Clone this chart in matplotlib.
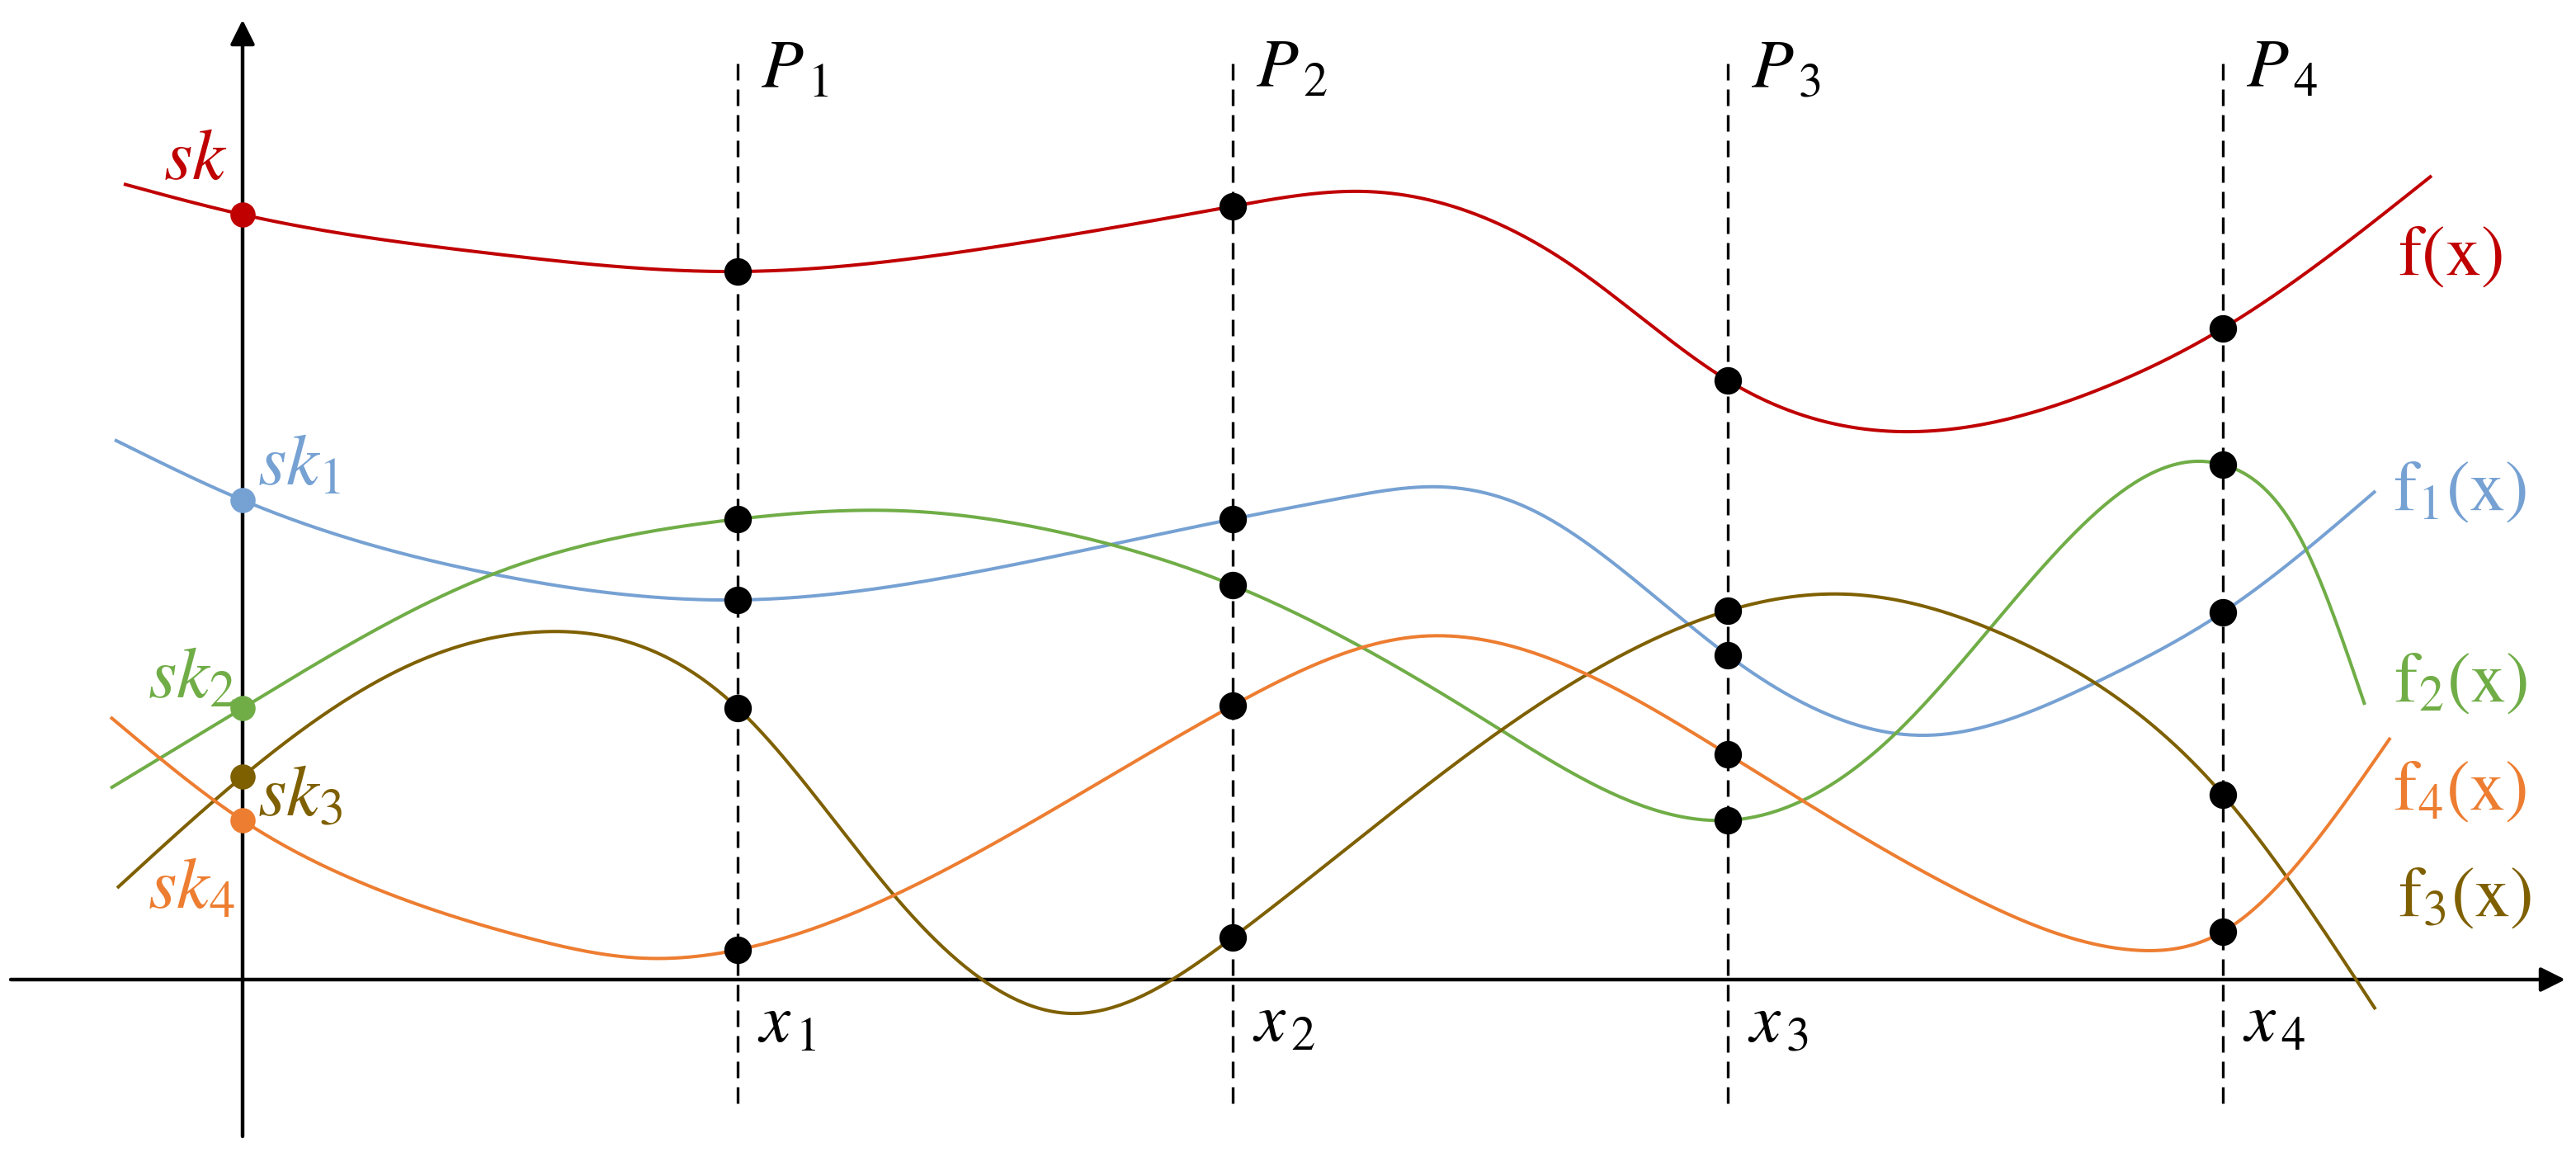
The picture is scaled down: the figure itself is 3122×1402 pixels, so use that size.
import numpy as np
import matplotlib
matplotlib.use("Agg")
import matplotlib.pyplot as plt

plt.rcParams['mathtext.fontset'] = 'stix'

# sample positions x1..x4 (dashed lines P1..P4)
x_nodes = [600, 1200, 1800, 2400]

# curve points: y axis at x=0, x axis at y=0
f_x = [-144, 0, 300, 600, 900, 1200, 1360, 1610, 1800, 2027, 2250, 2400, 2653]
f_y = [964, 927, 880, 858, 886, 937, 955, 866, 726, 664, 715, 789, 974]

f1_x = [-155, 0, 300, 600, 900, 1200, 1335, 1453, 1561, 1800, 2039, 2250,
        2400, 2585]
f1_y = [654, 581, 492, 460, 496, 558, 584, 597, 570, 393, 296, 362,
        445, 592]

f2_x = [-160, 0, 300, 600, 800, 1000, 1200, 1500, 1800, 2000, 2200, 2368,
        2400, 2500, 2572]
f2_y = [232, 329, 490, 558, 568, 540, 478, 318, 193, 295, 520, 628,
        624, 523, 333]

f3_x = [-152, 0, 200, 355, 600, 800, 1003, 1200, 1500, 1800, 1944, 2150,
        2400, 2585]
f3_y = [111, 246, 380, 421, 329, 90, -41, 51, 284, 447, 467, 411,
        224, -36]

f4_x = [-160, 0, 152, 344, 484, 600, 900, 1200, 1429, 1800, 2100, 2289,
        2400, 2603]
f4_y = [318, 193, 114, 51, 26, 36, 159, 332, 416, 273, 98, 36,
        58, 293]

colors = {'f': '#C00000', 'f1': '#76A1D3', 'f2': '#70AD47',
          'f3': '#7F6000', 'f4': '#ED7D31'}

curves = [('f', f_x, f_y), ('f1', f1_x, f1_y), ('f2', f2_x, f2_y),
          ('f3', f3_x, f3_y), ('f4', f4_x, f4_y)]

sk_labels = {'f': r'$sk$', 'f1': r'$sk_{\mathit{1}}$', 'f2': r'$sk_{\mathit{2}}$',
             'f3': r'$sk_{\mathit{3}}$', 'f4': r'$sk_{\mathit{4}}$'}
sk_pos = {'f': (-96, 970), 'f1': (18, 601), 'f2': (-115, 342),
          'f3': (18, 199), 'f4': (-115, 87)}

f_labels = {'f': r'$\mathrm{f(x)}$', 'f1': r'$\mathrm{f_{1}(x)}$',
            'f2': r'$\mathrm{f_{2}(x)}$', 'f3': r'$\mathrm{f_{3}(x)}$',
            'f4': r'$\mathrm{f_{4}(x)}$'}
f_pos = {'f': (2612, 854), 'f1': (2606, 569), 'f2': (2607, 337),
         'f3': (2612, 77), 'f4': (2606, 206)}


def natural_spline(xs, ys, n=600):
    # natural cubic spline through the read points, for drawing only
    x = np.asarray(xs, float)
    y = np.asarray(ys, float)
    h = np.diff(x)
    m = len(x)
    A = np.zeros((m, m))
    b = np.zeros(m)
    A[0, 0] = A[-1, -1] = 1
    for i in range(1, m - 1):
        A[i, i - 1] = h[i - 1]
        A[i, i] = 2 * (h[i - 1] + h[i])
        A[i, i + 1] = h[i]
        b[i] = 6 * ((y[i + 1] - y[i]) / h[i] - (y[i] - y[i - 1]) / h[i - 1])
    M = np.linalg.solve(A, b)
    xx = np.linspace(x[0], x[-1], n)
    k = np.clip(np.searchsorted(x, xx) - 1, 0, m - 2)
    t0 = x[k + 1] - xx
    t1 = xx - x[k]
    hk = h[k]
    yy = (M[k] * t0 ** 3 + M[k + 1] * t1 ** 3) / (6 * hk) \
        + (y[k] / hk - M[k] * hk / 6) * t0 + (y[k + 1] / hk - M[k + 1] * hk / 6) * t1
    return xx, yy


fig = plt.figure(figsize=(31.22, 14.02), dpi=100)
ax = fig.add_axes([0, 0, 1, 1])
ax.set_xlim(-294, 2828)
ax.set_ylim(-215, 1187)
ax.axis('off')

# axes with arrows
ax.annotate('', xy=(2815, 0), xytext=(-281, 0),
            arrowprops=dict(arrowstyle='-|>', lw=3.2, color='black',
                            mutation_scale=45, shrinkA=0, shrinkB=0))
ax.annotate('', xy=(0, 1163), xytext=(0, -190),
            arrowprops=dict(arrowstyle='-|>', lw=3.2, color='black',
                            mutation_scale=45, shrinkA=0, shrinkB=0))

# dashed verticals
for k, xn in enumerate(x_nodes):
    ax.plot([xn, xn], [-150, 1115], color='black', lw=2.4,
            dashes=(6, 3.3), zorder=2)
    ax.text(xn + 28, 1081, r'$P_{\,\mathit{%d}}$' % (k + 1), fontsize=60,
            ha='left', va='baseline', color='black')
    ax.text(xn + 24, -75, r'$x_{\,\mathit{%d}}$' % (k + 1), fontsize=60,
            ha='left', va='baseline', color='black')

for name, xs, ys in curves:
    c = colors[name]
    xx, yy = natural_spline(xs, ys)
    ax.plot(xx, yy, color=c, lw=2.9, zorder=3, solid_capstyle='butt')
    xs_a, ys_a = np.array(xs), np.array(ys)
    at_nodes = np.isin(xs_a, x_nodes)
    ax.plot(xs_a[at_nodes], ys_a[at_nodes], 'o', color='black', ms=24,
            mec='none', zorder=5)
    at_zero = xs_a == 0
    ax.plot(xs_a[at_zero], ys_a[at_zero], 'o', color=c, ms=22,
            mec='none', zorder=5)
    ax.text(*sk_pos[name], sk_labels[name], fontsize=64, color=c,
            ha='left', va='baseline')
    ax.text(*f_pos[name], f_labels[name], fontsize=62, color=c,
            ha='left', va='baseline')

fig.savefig('out.png', dpi=100)
